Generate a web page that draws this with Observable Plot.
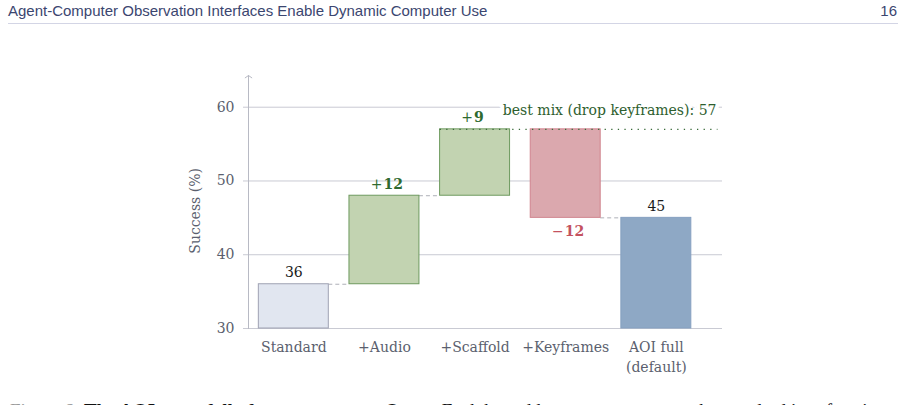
<!DOCTYPE html>
<html>
<head>
<meta charset="utf-8">
<script src="https://cdn.jsdelivr.net/npm/d3@7"></script>
<script src="https://cdn.jsdelivr.net/npm/@observablehq/plot@0.6"></script>
<style>
  html, body { margin: 0; padding: 0; background: #fff; }
  body { width: 906px; height: 405px; overflow: hidden; position: relative; }
  #hdr { position: relative; height: 30px; font-family: "Liberation Sans", Arial, sans-serif; font-size: 15px; line-height: 15px; color: #3b4670; }
  #hdr .t { position: absolute; left: 8px; top: 3px; }
  #hdr .p { position: absolute; right: 9px; top: 3px; }
  #hdr .rule { position: absolute; left: 8px; right: 8px; top: 23px; height: 1px; background: #d3d5e5; }
  #chart svg { display: block; }
  #cap { position: absolute; left: 10px; top: 401px; font-family: "Liberation Serif", serif; font-size: 19px; line-height: 20px; color: #111; white-space: nowrap; }
  #cap .f { color: #999; }
</style>
</head>
<body>
<div id="hdr"><span class="t">Agent-Computer Observation Interfaces Enable Dynamic Computer Use</span><span class="p">16</span><div class="rule"></div></div>
<div id="chart"></div>
<div id="cap"><span class="f">Figure 6:</span> <b>The AOI waterfall of components on Qwen.</b> Each bar adds one component to the standard interface in turn.</div>
<script>
// ---- data ----
const steps = ["Standard", "+Audio", "+Scaffold", "+Keyframes", "AOI full\n(default)"];
const starts = [30, 36, 48, 57, 30];
const ends = [36, 48, 57, 45, 45];
const kinds = ["base", "gain", "gain", "loss", "total"];
const valueLabels = ["36", "12", "9", "12", "45"];
const yTicks = [30, 40, 50, 60];
const bestMix = 57;
const bestMixLabel = "best mix (drop keyframes): 57";
const yAxisLabel = "Success (%)";

// ---- styles ----
const fills = { base: "#e1e6f0", gain: "#c2d3b1", loss: "#dba8ae", total: "#8ea8c5" };
const strokes = { base: "#9fa2b3", gain: "#6e9a5f", loss: "#d0848e", total: "#85a0c0" };
const labelColors = { base: "#1a1a1a", gain: "#2f6a2f", loss: "#c4525f", total: "#1a1a1a" };
const signFor = { gain: "+", loss: "\u2212" };
const gray = "#5b5f6e";
const gridColor = "#c9cad3";

const xDomain = [-0.5, 4.73];
const yDomain = [30, 64.3];
const hw = 0.386;

const rows = steps.map((s, i) => ({ i, step: s, start: starts[i], end: ends[i], kind: kinds[i], value: valueLabels[i] }));
const connectors = rows.slice(0, -1)
  .filter(d => d.end !== bestMix)
  .map(d => ({ y: d.end, x1: d.i + hw, x2: d.i + 1 - hw }));
const gains = rows.filter(d => d.kind === "gain");
const losses = rows.filter(d => d.kind === "loss");
const totals = rows.filter(d => d.kind === "base" || d.kind === "total");

const font = "DejaVu Serif";

const plot = Plot.plot({
  width: 906,
  height: 355,
  marginLeft: 248,
  marginRight: 184,
  marginTop: 45,
  marginBottom: 57,
  x: { type: "linear", domain: xDomain },
  y: { domain: yDomain },
  style: { fontFamily: font, fontSize: "14px", background: "white", overflow: "visible" },
  marks: [
    Plot.gridY(yTicks, { stroke: gridColor, strokeOpacity: 1 }),
    Plot.axisY(yTicks, { tickSize: 5, tickPadding: 9, stroke: gridColor, fill: gray, fontSize: 14, label: null }),
    Plot.arrow([yDomain], { x1: xDomain[0], x2: xDomain[0], y1: d => d[0], y2: d => d[1], stroke: "#b8bac4", strokeWidth: 1, headLength: 6, headAngle: 110 }),
    Plot.axisX(rows.map(d => d.i), { tickFormat: i => steps[i], tickSize: 0, tickPadding: 10, fill: gray, fontSize: 14, lineHeight: 1.4, label: null }),
    Plot.text([yAxisLabel], { x: xDomain[0], y: (yTicks[0] + yTicks[yTicks.length - 1]) / 2, rotate: -90, dx: -53, dy: -7, fill: gray, fontSize: 14 }),
    Plot.ruleY(connectors, { y: "y", x1: "x1", x2: "x2", stroke: "#aeb0b8", strokeDasharray: "4,3" }),
    Plot.rect(rows, { x1: d => d.i - hw, x2: d => d.i + hw, y1: "start", y2: "end", fill: d => fills[d.kind], stroke: d => strokes[d.kind], strokeWidth: 1 }),
    Plot.ruleY([bestMix], { x1: 2 - hw, x2: xDomain[1] - 0.05, stroke: "#3a6b3a", strokeDasharray: "1.3,5.3", strokeWidth: 1.3 }),
    Plot.text([bestMixLabel], { x: xDomain[1], y: 60, dx: -6, dy: 8, textAnchor: "end", lineAnchor: "bottom", fill: "#2e5e2e", stroke: "white", strokeWidth: 8, fontSize: 14 }),
    // base / total values
    Plot.text(totals, { x: "i", y: "end", text: "value", lineAnchor: "bottom", dy: -7, fill: d => labelColors[d.kind], fontSize: 14 }),
    // gains: sign normal + number bold
    Plot.text(gains, { x: "i", y: "end", text: d => signFor[d.kind], textAnchor: "end", lineAnchor: "bottom", dx: -2, dy: -7, fill: d => labelColors[d.kind], fontSize: 14 }),
    Plot.text(gains, { x: "i", y: "end", text: "value", textAnchor: "start", lineAnchor: "bottom", dx: -1, dy: -7, fill: d => labelColors[d.kind], fontSize: 14, fontWeight: "bold" }),
    // losses: sign below the bar
    Plot.text(losses, { x: "i", y: "end", text: d => signFor[d.kind], textAnchor: "end", lineAnchor: "top", dx: -2, dy: 8, fill: d => labelColors[d.kind], fontSize: 14 }),
    Plot.text(losses, { x: "i", y: "end", text: "value", textAnchor: "start", lineAnchor: "top", dx: -1, dy: 8, fill: d => labelColors[d.kind], fontSize: 14, fontWeight: "bold" })
  ]
});
document.getElementById("chart").appendChild(plot);
</script>
</body>
</html>
